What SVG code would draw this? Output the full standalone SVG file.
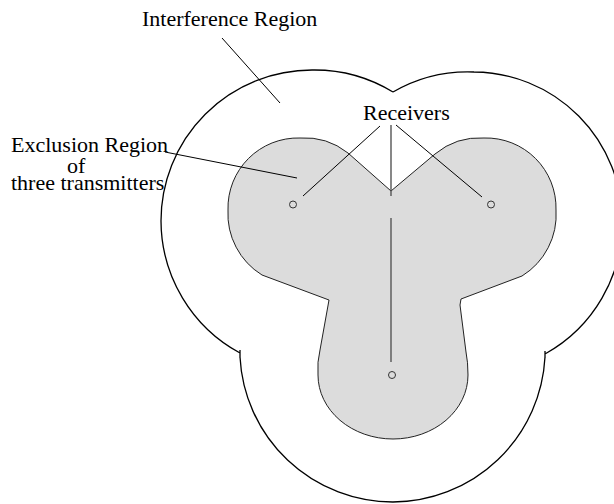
<svg xmlns="http://www.w3.org/2000/svg" width="614" height="504" viewBox="0 0 614 504">
<style>
  .lbl { font-family: "Liberation Serif", "Times New Roman", serif; font-size: 22px; fill: #000; }
  .outer { fill: none; stroke: #000; stroke-width: 1.3; }
  .excl { fill: #dcdcdc; stroke: #222; stroke-width: 1; }
  .lead { fill: none; stroke: #000; stroke-width: 1; }
  .rx { fill: none; stroke: #555; stroke-width: 1.4; }
  .tx { fill: none; stroke: #333; stroke-width: 1; }
</style>
<rect width="614" height="504" fill="#fff"/>
<g id="interference-region">
  <path class="outer" d="M 393 92 A 151 151 0 0 0 312 70 A 151 151 0 0 0 161 221 A 151 151 0 0 0 240 353 M 240 350 L 240 358 M 240 357 A 153 153 0 0 0 393 502 A 153 153 0 0 0 545 357 M 545 358 L 545 351 M 545 354 A 149 149 0 0 0 622 221 A 149 149 0 0 0 474 72 A 149 149 0 0 0 393 92"/>
</g>
<g id="exclusion-region">
  <path class="excl" d="M 391 191 L 348 153 A 70 70 0 0 0 300 138 A 70 70 0 0 0 228 210 A 72 72 0 0 0 262 275 L 329 300 L 320 350 Q 317 362 318 375 A 75 64 0 0 0 393 439 A 75 64 0 0 0 468 375 Q 468 362 466 352 L 460 305 L 461 299 L 522 276 A 72 72 0 0 0 556 210 A 70 70 0 0 0 484 138 A 70 70 0 0 0 435 154 Z"/>
</g>
<g id="transmitters">
  <circle class="tx" cx="293" cy="204.5" r="3.5"/>
  <circle class="tx" cx="491" cy="204.5" r="3.5"/>
  <circle class="tx" cx="392" cy="375" r="3.5"/>
</g>
<g id="connectors">
  <line class="lead" x1="222" y1="38" x2="280" y2="103"/>
  <line class="lead" x1="165" y1="152" x2="297" y2="178"/>
  <line class="lead" x1="380" y1="126" x2="303" y2="196"/>
  <line class="lead" x1="396" y1="125" x2="482" y2="197"/>
  <line class="rx" x1="391" y1="125" x2="391" y2="196"/>
  <line class="rx" x1="391" y1="218" x2="391" y2="362"/>
</g>
<g id="labels">
  <text class="lbl" x="142" y="26">Interference Region</text>
  <text class="lbl" x="363" y="120">Receivers</text>
  <text class="lbl" x="11" y="152">Exclusion Region</text>
  <text class="lbl" x="67" y="173">of</text>
  <text class="lbl" x="11" y="190">three transmitters</text>
</g>
</svg>
